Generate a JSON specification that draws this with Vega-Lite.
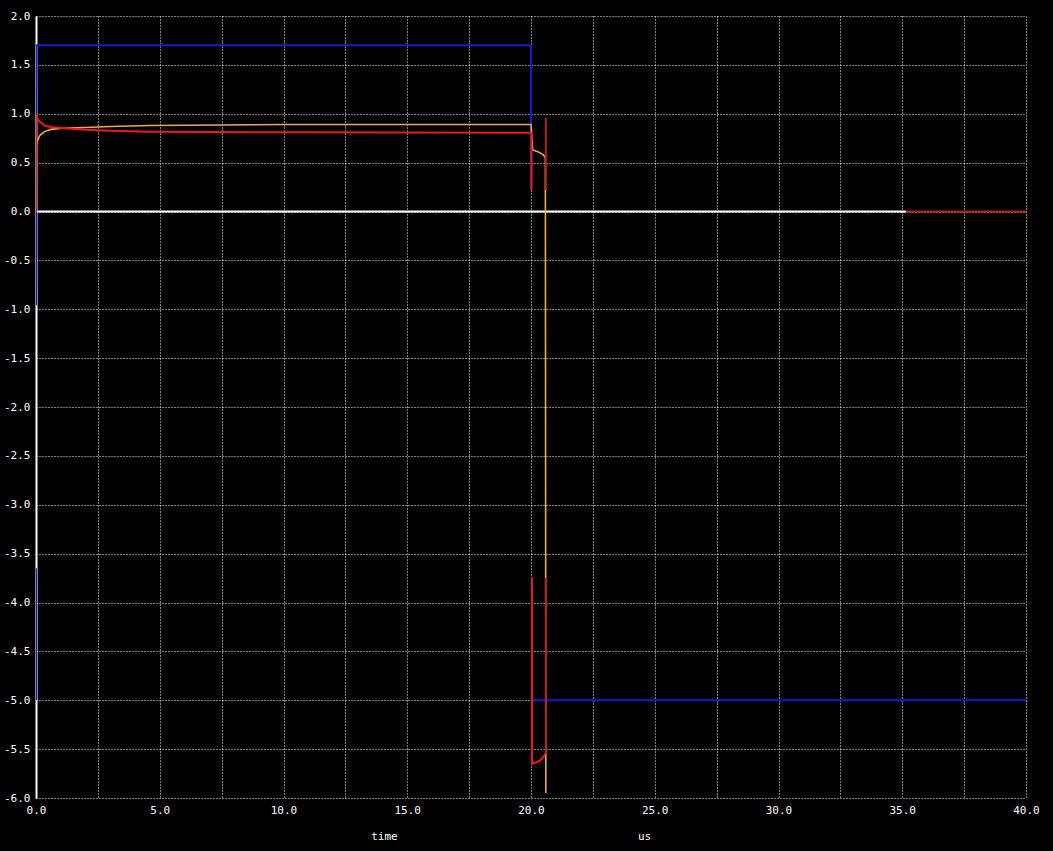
{
  "$schema": "https://vega.github.io/schema/vega-lite/v6.json",
  "width": 990,
  "height": 782,
  "autosize": {"type": "none"},
  "padding": {"left": 36, "top": 16, "right": 27, "bottom": 53},
  "background": "black",
  "config": {
    "view": {"stroke": null},
    "axis": {"labelFont": "DejaVu Sans Mono", "labelFontSize": 11, "labelColor": "white", "titleFont": "DejaVu Sans Mono", "titleFontSize": 11, "titleColor": "white", "titleFontWeight": "normal"}
  },
  "data": {"values": [
    {"s": "white", "seg": "w1", "o": 1, "t": 0, "v": 0},
    {"s": "white", "seg": "w1", "o": 2, "t": 35.15, "v": 0},

    {"s": "blue", "seg": "b1", "o": 1, "t": 0, "v": -5.0},
    {"s": "blue", "seg": "b1", "o": 2, "t": 0, "v": -3.65},
    {"s": "blue", "seg": "b2", "o": 3, "t": 0, "v": -0.96},
    {"s": "blue", "seg": "b2", "o": 4, "t": 0.02, "v": 1.7},
    {"s": "blue", "seg": "b2", "o": 5, "t": 20.0, "v": 1.7},
    {"s": "blue", "seg": "b2", "o": 6, "t": 20.0, "v": 0.22},
    {"s": "blue", "seg": "b3", "o": 7, "t": 20.05, "v": -5.0},
    {"s": "blue", "seg": "b3", "o": 8, "t": 40, "v": -5.0},

    {"s": "orange", "seg": "o1", "o": 1, "t": 0, "v": 0},
    {"s": "orange", "seg": "o1", "o": 2, "t": 0.02, "v": 0.69},
    {"s": "orange", "seg": "o1", "o": 3, "t": 0.08, "v": 0.74},
    {"s": "orange", "seg": "o1", "o": 4, "t": 0.16, "v": 0.78},
    {"s": "orange", "seg": "o1", "o": 5, "t": 0.36, "v": 0.82},
    {"s": "orange", "seg": "o1", "o": 6, "t": 0.6, "v": 0.84},
    {"s": "orange", "seg": "o1", "o": 7, "t": 1.0, "v": 0.85},
    {"s": "orange", "seg": "o1", "o": 8, "t": 2.0, "v": 0.86},
    {"s": "orange", "seg": "o1", "o": 9, "t": 3.0, "v": 0.87},
    {"s": "orange", "seg": "o1", "o": 10, "t": 4.6, "v": 0.88},
    {"s": "orange", "seg": "o1", "o": 11, "t": 10.0, "v": 0.89},
    {"s": "orange", "seg": "o1", "o": 12, "t": 20.0, "v": 0.89},
    {"s": "orange", "seg": "o1", "o": 13, "t": 20.04, "v": 0.75},
    {"s": "orange", "seg": "o1", "o": 14, "t": 20.07, "v": 0.63},
    {"s": "orange", "seg": "o1", "o": 15, "t": 20.3, "v": 0.61},
    {"s": "orange", "seg": "o1", "o": 16, "t": 20.5, "v": 0.58},
    {"s": "orange", "seg": "o1", "o": 17, "t": 20.58, "v": 0.55},
    {"s": "orange", "seg": "o1", "o": 18, "t": 20.6, "v": -5.95},

    {"s": "red", "seg": "r1", "o": 1, "t": 0, "v": 0},
    {"s": "red", "seg": "r1", "o": 2, "t": 0.01, "v": 1.0},
    {"s": "red", "seg": "r1", "o": 3, "t": 0.05, "v": 0.95},
    {"s": "red", "seg": "r1", "o": 4, "t": 0.15, "v": 0.92},
    {"s": "red", "seg": "r1", "o": 5, "t": 0.35, "v": 0.88},
    {"s": "red", "seg": "r1", "o": 6, "t": 0.6, "v": 0.865},
    {"s": "red", "seg": "r1", "o": 7, "t": 1.25, "v": 0.85},
    {"s": "red", "seg": "r1", "o": 8, "t": 2.0, "v": 0.837},
    {"s": "red", "seg": "r1", "o": 9, "t": 3.0, "v": 0.826},
    {"s": "red", "seg": "r1", "o": 10, "t": 4.6, "v": 0.817},
    {"s": "red", "seg": "r1", "o": 11, "t": 10.0, "v": 0.81},
    {"s": "red", "seg": "r1", "o": 12, "t": 20.02, "v": 0.805},
    {"s": "red", "seg": "r1", "o": 13, "t": 20.02, "v": 0.22},
    {"s": "red", "seg": "r2", "o": 14, "t": 20.04, "v": -3.75},
    {"s": "red", "seg": "r2", "o": 15, "t": 20.04, "v": -5.65},
    {"s": "red", "seg": "r2", "o": 16, "t": 20.15, "v": -5.64},
    {"s": "red", "seg": "r2", "o": 17, "t": 20.35, "v": -5.62},
    {"s": "red", "seg": "r2", "o": 18, "t": 20.5, "v": -5.58},
    {"s": "red", "seg": "r2", "o": 19, "t": 20.6, "v": -5.54},

    {"s": "darkred", "seg": "d1", "o": 1, "t": 20.6, "v": 0.96},
    {"s": "darkred", "seg": "d1", "o": 2, "t": 20.6, "v": 0.22},
    {"s": "darkred", "seg": "d2", "o": 3, "t": 20.6, "v": -3.75},
    {"s": "darkred", "seg": "d2", "o": 4, "t": 20.6, "v": -5.54},
    {"s": "darkred", "seg": "d3", "o": 5, "t": 35.15, "v": 0},
    {"s": "darkred", "seg": "d3", "o": 6, "t": 40, "v": 0}
  ]},
  "resolve": {"axis": {"x": "independent"}},
  "layer": [
    {
      "transform": [{"filter": "datum.s == 'white'"}],
      "mark": {"type": "line", "color": "white", "strokeWidth": 2, "clip": true},
      "encoding": {
        "x": {"field": "t", "type": "quantitative", "scale": {"domain": [0, 40], "nice": false, "zero": false},
          "axis": {"orient": "bottom", "values": [0, 2.5, 5, 7.5, 10, 12.5, 15, 17.5, 20, 22.5, 25, 27.5, 30, 32.5, 35, 37.5, 40],
            "labelExpr": "datum.value % 5 == 0 ? format(datum.value, '.1f') : ''",
            "ticks": false, "domain": false, "labelPadding": 12, "labelBaseline": "middle", "labelFlush": false, "labelOverlap": false,
            "grid": true, "gridColor": "white", "gridDash": [1, 2], "gridWidth": 1, "gridOpacity": 1,
            "title": "time", "titleX": 348, "titleY": 38, "titleAlign": "center", "titleBaseline": "middle", "titleAnchor": null}},
        "y": {"field": "v", "type": "quantitative", "scale": {"domain": [-6, 2], "nice": false, "zero": false},
          "axis": {"values": [-6, -5.5, -5, -4.5, -4, -3.5, -3, -2.5, -2, -1.5, -1, -0.5, 0, 0.5, 1, 1.5, 2],
            "labelExpr": "replace(format(datum.value, '.1f'), '\u2212', '-')",
            "ticks": false, "domain": true, "domainColor": "white", "domainWidth": 2, "labelPadding": 6, "labelFlush": false, "labelOverlap": false,
            "grid": true, "gridColor": "white", "gridDash": [1, 2], "gridWidth": 1, "gridOpacity": 1, "title": null}},
        "detail": {"field": "seg"},
        "order": {"field": "o"}
      }
    },
    {
      "transform": [{"filter": "datum.s == 'blue'"}],
      "mark": {"type": "line", "color": "#1818d8", "strokeWidth": 2, "clip": true},
      "encoding": {
        "x": {"field": "t", "type": "quantitative",
          "axis": {"orient": "bottom", "labels": false, "ticks": false, "domain": false, "grid": false,
            "title": "us", "titleX": 608, "titleY": 38, "titleAlign": "center", "titleBaseline": "middle", "titleAnchor": null}},
        "y": {"field": "v", "type": "quantitative"},
        "detail": {"field": "seg"},
        "order": {"field": "o"}
      }
    },
    {
      "transform": [{"filter": "datum.s == 'orange'"}],
      "mark": {"type": "line", "color": "#f0aa3c", "strokeWidth": 1.6, "clip": true},
      "encoding": {
        "x": {"field": "t", "type": "quantitative", "axis": null},
        "y": {"field": "v", "type": "quantitative"},
        "detail": {"field": "seg"},
        "order": {"field": "o"}
      }
    },
    {
      "transform": [{"filter": "datum.s == 'red'"}],
      "mark": {"type": "line", "color": "#f01818", "strokeWidth": 2, "clip": true},
      "encoding": {
        "x": {"field": "t", "type": "quantitative", "axis": null},
        "y": {"field": "v", "type": "quantitative"},
        "detail": {"field": "seg"},
        "order": {"field": "o"}
      }
    },
    {
      "transform": [{"filter": "datum.s == 'darkred'"}],
      "mark": {"type": "line", "color": "#b82020", "strokeWidth": 2, "clip": true},
      "encoding": {
        "x": {"field": "t", "type": "quantitative", "axis": null},
        "y": {"field": "v", "type": "quantitative"},
        "detail": {"field": "seg"},
        "order": {"field": "o"}
      }
    }
  ]
}
